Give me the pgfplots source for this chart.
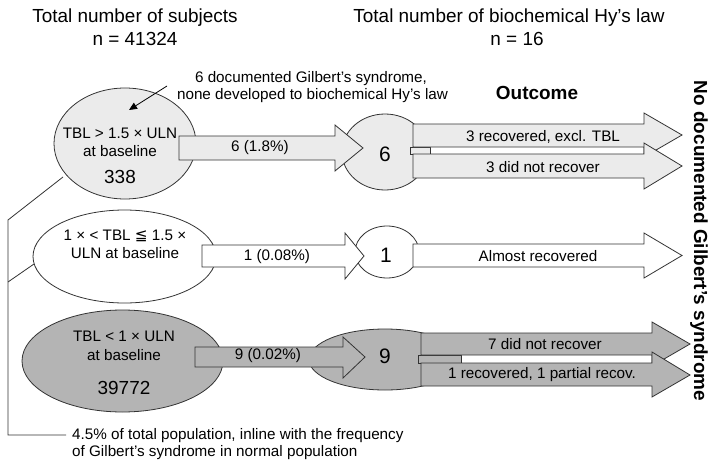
\documentclass[border=0pt]{standalone}
\usepackage{pgfplots}
\pgfplotsset{compat=1.18}
\usepackage{fontspec}
\setmainfont{Liberation Sans}
\newfontfamily\dejavu{DejaVu Sans}
\usetikzlibrary{arrows.meta}
\definecolor{lg}{HTML}{EBEBEB}
\definecolor{dg}{HTML}{B4B4B4}
\definecolor{ol}{HTML}{333333}
\newcommand{\fs}[1]{\fontsize{#1}{#1}\selectfont}
\begin{document}
\begin{tikzpicture}
\begin{axis}[width=722bp, height=471bp, scale only axis,
  xmin=0, xmax=722, ymin=0, ymax=471, y dir=reverse,
  hide axis, clip=false]
\addplot[draw=none] coordinates {(0,0) (722,471)};
% bracket
\addplot[ol, line width=0.8bp] coordinates {(63,177) (8,220) (8,435) (66,435)};
\addplot[ol, line width=0.8bp] coordinates {(8,282) (34,264)};
% left ellipses
\draw[ol, line width=0.8bp, fill=lg] (axis cs:125,143.5) ellipse [x radius=71, y radius=55.5];
\draw[ol, line width=0.8bp, fill=white] (axis cs:124.5,256.5) ellipse [x radius=91.5, y radius=46.5];
\draw[ol, line width=0.8bp, fill=dg] (axis cs:122.5,361) ellipse [x radius=100.5, y radius=51];
% annotation arrow
\addplot[black, line width=0.8bp, -{Triangle[length=8bp,width=7bp]}] coordinates {(167,86) (129,110)};
% middle ellipses
\draw[ol, line width=0.8bp, fill=lg] (axis cs:385,152) ellipse [x radius=43, y radius=38];
\draw[ol, line width=0.8bp, fill=white] (axis cs:387,252) ellipse [x radius=32, y radius=26];
\draw[ol, line width=0.8bp, fill=dg] (axis cs:385,359.5) ellipse [x radius=76, y radius=30.5];
% gap strips
\filldraw[draw=ol, line width=0.8bp, fill=lg] (axis cs:410,147) rectangle (axis cs:430,154);
\filldraw[draw=ol, line width=0.8bp, fill=dg] (axis cs:418,355) rectangle (axis cs:461,363);
% arrows left -> middle
\addplot[ol, line width=0.8bp, fill=lg] coordinates {(179,136) (335,136) (335,125) (363,148) (335,171) (335,160) (179,160)} -- cycle;
\addplot[ol, line width=0.8bp, fill=white] coordinates {(202,245) (345,245) (345,233) (364,256) (345,279) (345,267) (202,267)} -- cycle;
\addplot[ol, line width=0.8bp, fill=dg] coordinates {(195,347) (343,347) (343,337) (365,357) (343,378) (343,367) (195,367)} -- cycle;
% outcome arrows
\addplot[ol, line width=0.8bp, fill=lg] coordinates {(413,124) (644,124) (644,113) (682,135) (644,157) (644,147) (413,147)} -- cycle;
\addplot[ol, line width=0.8bp, fill=lg] coordinates {(413,154) (644,154) (644,143) (682,166) (644,189) (644,178) (413,178)} -- cycle;
\addplot[ol, line width=0.8bp, fill=white] coordinates {(413,244) (644,244) (644,233) (682,255.5) (644,278) (644,267) (413,267)} -- cycle;
\addplot[ol, line width=0.8bp, fill=dg] coordinates {(421,333) (652,333) (652,322) (690,344) (652,366) (652,355) (421,355)} -- cycle;
\addplot[ol, line width=0.8bp, fill=dg] coordinates {(421,363) (652,363) (652,352) (690,375) (652,397) (652,386) (421,386)} -- cycle;
% titles
\node[font=\fs{19}] at (axis cs:135,18) {Total number of subjects};
\node[font=\fs{19}] at (axis cs:135,39) {n = 41324};
\node[font=\fs{19}] at (axis cs:509,18) {Total number of biochemical Hy’s law};
\node[font=\fs{19}] at (axis cs:517,39) {n = 16};
\node[font=\fs{15.3}] at (axis cs:311,79) {6 documented Gilbert's syndrome,};
\node[font=\fs{15.3}] at (axis cs:312.5,96) {none developed to biochemical Hy's law};
\node[font=\bfseries\fs{19}] at (axis cs:537,93) {Outcome};
\node[font=\bfseries\fs{19}, rotate=-90] at (axis cs:699,241) {No documented Gilbert’s syndrome};
% ellipse texts
\node[font=\fs{15.3}] at (axis cs:120,133) {TBL > 1.5 × ULN};
\node[font=\fs{15.3}] at (axis cs:120,151) {at baseline};
\node[font=\fs{19}] at (axis cs:120,177) {338};
\node[font=\fs{15.3}] at (axis cs:125,236) {1 × < TBL {\dejavu ≦} 1.5 ×};
\node[font=\fs{15.3}] at (axis cs:125,253) {ULN at baseline};
\node[font=\fs{15.3}] at (axis cs:124,336) {TBL < 1 × ULN};
\node[font=\fs{15.3}] at (axis cs:124,355) {at baseline};
\node[font=\fs{19}] at (axis cs:124,388) {39772};
% arrow texts
\node[font=\fs{15.3}] at (axis cs:260,148) {6 (1.8\%)};
\node[font=\fs{15.3}] at (axis cs:277,257) {1 (0.08\%)};
\node[font=\fs{15.3}] at (axis cs:268,356) {9 (0.02\%)};
\node[font=\fs{21}] at (axis cs:385,154) {6};
\node[font=\fs{21}] at (axis cs:386,255) {1};
\node[font=\fs{21}] at (axis cs:385,356) {9};
\node[font=\fs{15.3}] at (axis cs:543,136.5) {3 recovered, excl. TBL};
\node[font=\fs{15.3}] at (axis cs:543,167) {3 did not recover};
\node[font=\fs{15.3}] at (axis cs:538,256) {Almost recovered};
\node[font=\fs{15.3}] at (axis cs:545,344) {7 did not recover};
\node[font=\fs{15.3}] at (axis cs:542,375) {1 recovered, 1 partial recov.};
% bottom note
\node[font=\fs{15.3}, anchor=west, inner sep=0pt] at (axis cs:72,436) {4.5\% of total population, inline with the frequency};
\node[font=\fs{15.3}, anchor=west, inner sep=0pt] at (axis cs:72,453) {of Gilbert's syndrome in normal population};
\end{axis}
\end{tikzpicture}
\end{document}
